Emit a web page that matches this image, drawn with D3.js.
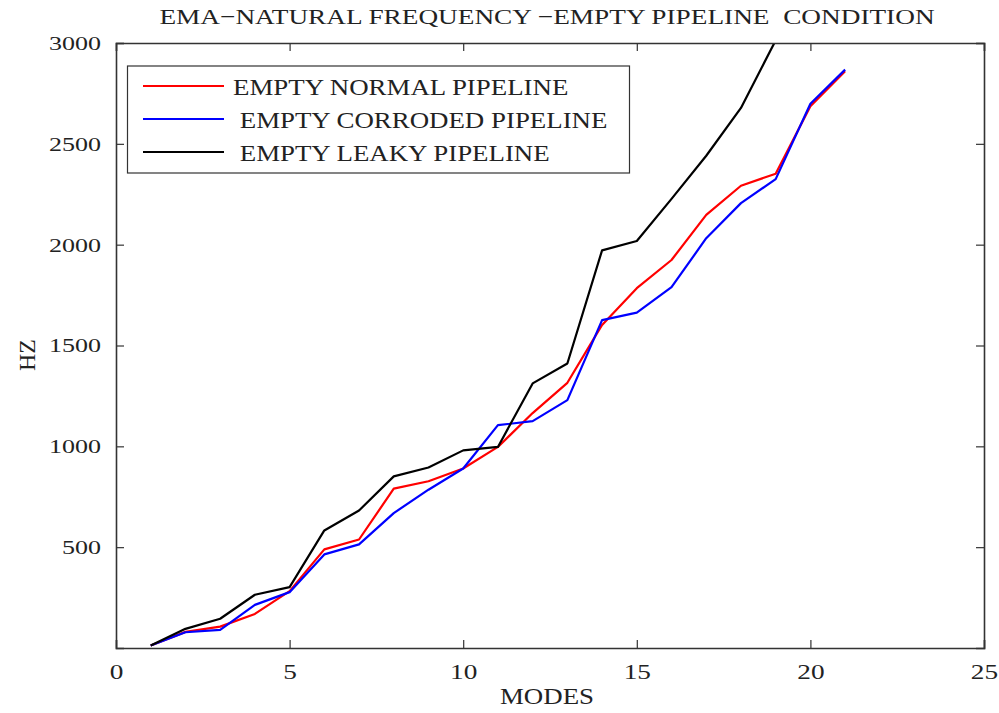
<!DOCTYPE html>
<html>
<head>
<meta charset="utf-8">
<script src="https://cdn.jsdelivr.net/npm/d3@7"></script>
<style>
  body { margin: 0; background: #fff; }
  text { font-family: "Liberation Serif", "DejaVu Serif", serif; fill: #222; }
</style>
</head>
<body>
<div id="chart"></div>
<script>
const modes = d3.range(1, 22)

const normal = [12, 80, 106, 169, 282, 489, 538, 790, 827, 890, 997, 1165, 1315, 1602, 1784, 1924, 2148, 2292, 2352, 2686, 2860]
const corroded = [12, 78, 90, 214, 277, 464, 514, 669, 785, 890, 1105, 1125, 1229, 1626, 1663, 1789, 2032, 2206, 2325, 2699, 2868]
const leaky = [12, 95, 145, 264, 302, 583, 682, 851, 895, 980, 997, 1312, 1411, 1972, 2018, 2227, 2441, 2678, 3013, 3320, 3600]

const seriesNames = ['EMPTY NORMAL PIPELINE', ' EMPTY CORRODED PIPELINE', ' EMPTY LEAKY PIPELINE']
const seriesColors = ['#ff0000', '#0000ff', '#000000']
const xTicks = [0, 5, 10, 15, 20, 25]
const yTicks = [500, 1000, 1500, 2000, 2500, 3000]

const width = 999, height = 713
const margin = {top: 43, right: 15, bottom: 65, left: 116}
const w = 984 - margin.left
const h = 648 - margin.top

const svg = d3.select('#chart')
.append('svg')
.attr('width', width)
.attr('height', height)

const x = d3.scaleLinear().domain([0, 25]).range([0, w])
const y = d3.scaleLinear().domain([0, 3000]).range([h, 0])

svg.append('defs')
.append('clipPath')
.attr('id', 'plotclip')
.append('rect')
.attr('width', w)
.attr('height', h)

const g = svg.append('g')
.attr('transform', `translate(${margin.left},${margin.top})`)

// lines
const line = d3.line()
.x((d, i) => x(modes[i]))
.y(d => y(d))

const allSeries = [normal, corroded, leaky]

g.append('g')
.attr('clip-path', 'url(#plotclip)')
.selectAll('path')
.data(allSeries)
.enter()
.append('path')
.attr('d', line)
.style('fill', 'none')
.style('stroke', (d, i) => seriesColors[i])
.style('stroke-width', 2.2)
.style('stroke-linejoin', 'round')

// axes (matlab style box, ticks inwards)
const axisColor = '#333'
const tickLen = 8

const xAxis = g.append('g').attr('transform', `translate(0,${h})`)
.call(d3.axisBottom(x).tickValues(xTicks).tickSize(-tickLen).tickPadding(16).tickFormat(d3.format('d')))
const xTop = g.append('g')
.call(d3.axisTop(x).tickValues(xTicks).tickSize(-tickLen).tickFormat(''))
const yAxis = g.append('g')
.call(d3.axisLeft(y).tickValues(yTicks).tickSize(-tickLen).tickPadding(15).tickFormat(d3.format('d')))
const yRight = g.append('g').attr('transform', `translate(${w},0)`)
.call(d3.axisRight(y).tickValues(yTicks).tickSize(-tickLen).tickFormat(''))

;[xAxis, xTop, yAxis, yRight].forEach(a => {
  a.select('.domain').attr('stroke', axisColor).attr('stroke-width', 1.6)
  a.selectAll('.tick line').attr('stroke', axisColor).attr('stroke-width', 1.2)
})

xAxis.selectAll('.tick text')
.style('font-size', '21px')
.style('font-family', '"Liberation Serif", serif')
.attr('fill', '#222')
.attr('transform', 'scale(1.3,1)')

yAxis.selectAll('.tick text')
.style('font-size', '19px')
.style('font-family', '"Liberation Serif", serif')
.attr('fill', '#222')
.attr('textLength', 52)
.attr('lengthAdjust', 'spacingAndGlyphs')
.attr('dy', '0.34em')
.each(function(d) { if (d < 1000) d3.select(this).attr('textLength', 39) })

// stretched text helper (the reference type is wider than it is tall)
function wideText(parent, tx, ty, sx, size, str, anchor) {
  return parent.append('text')
  .attr('transform', `translate(${tx},${ty}) scale(${sx},1)`)
  .attr('text-anchor', anchor || 'start')
  .style('font-size', size + 'px')
  .style('white-space', 'pre')
  .text(str)
}

// title
wideText(svg, 547, 24, 1.24, 22, 'EMA\u2212NATURAL FREQUENCY \u2212EMPTY PIPELINE  CONDITION', 'middle')

// axis labels
wideText(svg, 547, 704, 1.12, 24, 'MODES', 'middle')

svg.append('text')
.attr('transform', 'translate(35,355) rotate(-90)')
.attr('text-anchor', 'middle')
.style('font-size', '24px')
.text('HZ')

// legend
const legend = svg.append('g')
legend.append('rect')
.attr('x', 127.5)
.attr('y', 66)
.attr('width', 502)
.attr('height', 107)
.style('fill', '#fff')
.style('stroke', axisColor)
.style('stroke-width', 1.2)

const rows = legend.selectAll('g.row')
.data(seriesNames)
.enter()
.append('g')
.attr('transform', (d, i) => `translate(0,${86 + i * 33})`)

rows.append('line')
.attr('x1', 143)
.attr('x2', 224)
.style('stroke', (d, i) => seriesColors[i])
.style('stroke-width', 2.2)

rows.each(function(d) {
  wideText(d3.select(this), 233, 9, 1.12, 24, d)
})
</script>
</body>
</html>
